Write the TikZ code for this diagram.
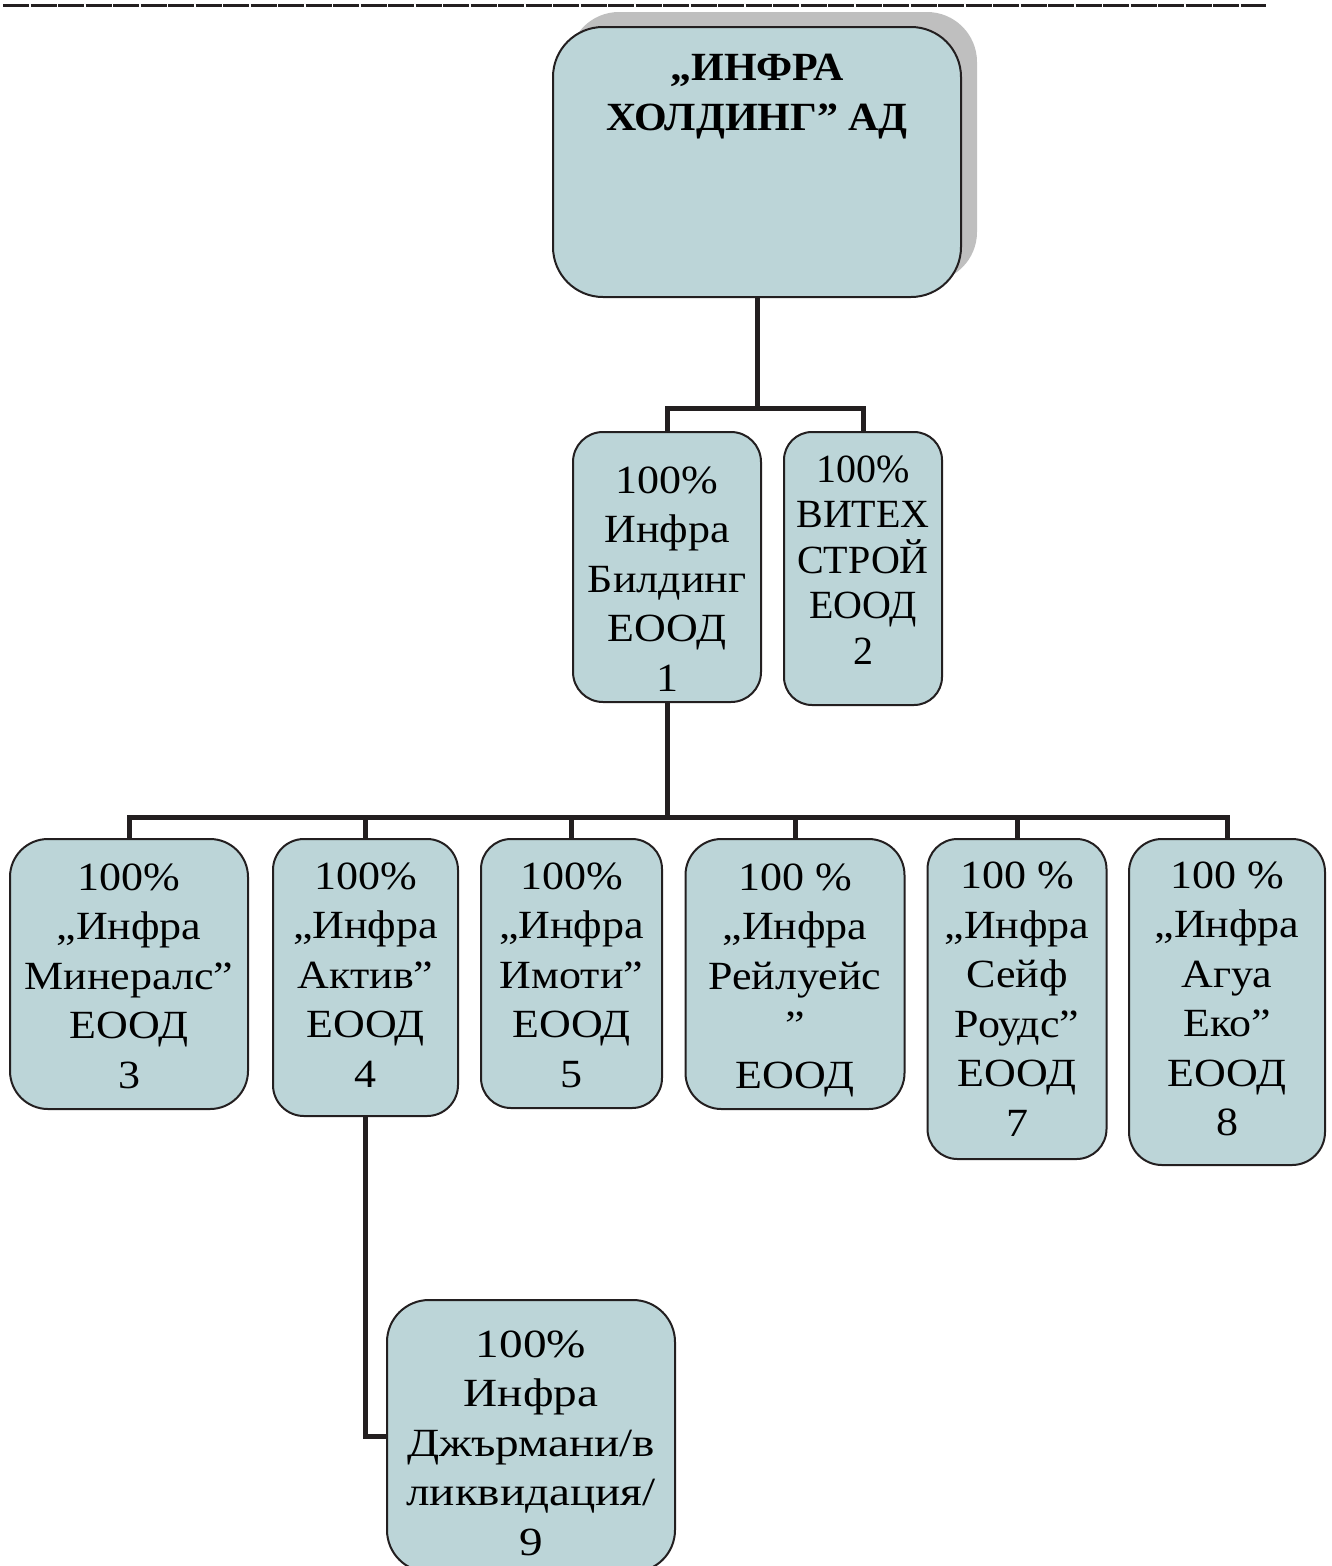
\documentclass[tikz,border=0pt]{standalone}
\usepackage{fontspec}
\setmainfont{Liberation Serif}[FakeStretch=1.1]
\newfontfamily\titlefont{Liberation Serif}[FakeStretch=1.05]
\newfontfamily\plainfont{Liberation Serif}
\newfontfamily\widefont{Liberation Serif}[FakeStretch=1.18]
\definecolor{boxfill}{RGB}{188,213,216}
\definecolor{ink}{RGB}{35,31,32}
\definecolor{shadowgray}{RGB}{191,191,191}
\tikzset{
  orgbox/.style={draw=ink, line width=2pt, fill=boxfill, inner sep=0pt},
  conn/.style={draw=ink, line width=5pt, line join=miter},
  txt/.style={align=center, inner sep=0pt, font=\fontsize{40}{49.5}\selectfont},
  titletxt/.style={align=center, inner sep=0pt, font=\titlefont\fontsize{40}{50}\selectfont\bfseries},
}
\begin{document}
\begin{tikzpicture}[x=1pt,y=-1pt]
\useasboundingbox (0,0) rectangle (1332,1566);
% top rule
\coordinate (ruleL) at (3,5);
\coordinate (ruleR) at (1266,5);
\draw[ink, line width=3pt, dash pattern=on 26pt off 1.5pt] (ruleL) -- (ruleR);
% top box with shadow
\fill[shadowgray, rounded corners=50pt] (569,12) rectangle (977,282);
\node[orgbox, rounded corners=50pt, minimum width=408pt, minimum height=270pt] (top) at (757,162) {};
\node[titletxt] (toptxt) at (757,97) {„ИНФРА\\ХОЛДИНГ” АД};
% level 1
\node[orgbox, rounded corners=30pt, minimum width=188pt, minimum height=270pt] (b1) at (667,567) {};
\node[txt] (b1t) at (667,579) {100\%\\Инфра\\Билдинг\\ЕООД\\1};
\node[orgbox, rounded corners=28pt, minimum width=158pt, minimum height=273pt] (b2) at (863,568.5) {};
\node[txt, font=\plainfont\fontsize{40}{45.5}\selectfont] (b2t) at (863,560) {100\%\\ВИТЕХ\\СТРОЙ\\ЕООД\\2};
% level 2
\node[orgbox, rounded corners=38pt, minimum width=238pt, minimum height=270pt] (b3) at (129,974) {};
\node[txt] (b3t) at (129,976) {100\%\\„Инфра\\Минералс”\\ЕООД\\3};
\node[orgbox, rounded corners=31pt, minimum width=185pt, minimum height=277pt] (b4) at (365.5,977.5) {};
\node[txt] (b4t) at (365.5,975) {100\%\\„Инфра\\Актив”\\ЕООД\\4};
\node[orgbox, rounded corners=30pt, minimum width=181pt, minimum height=269pt] (b5) at (571.5,973.5) {};
\node[txt] (b5t) at (571.5,975) {100\%\\„Инфра\\Имоти”\\ЕООД\\5};
\node[orgbox, rounded corners=36pt, minimum width=219pt, minimum height=270pt] (b6) at (795,974) {};
\node[txt] (b6t) at (795,980) {100 \%\\„Инфра\\Рейлуейс\\”\\ЕООД};
\node[orgbox, rounded corners=30pt, minimum width=179pt, minimum height=320pt] (b7) at (1017,999) {};
\node[txt] (b7t) at (1017,999) {100 \%\\„Инфра\\Сейф\\Роудс”\\ЕООД\\7};
\node[orgbox, rounded corners=33pt, minimum width=196pt, minimum height=326pt] (b8) at (1227,1002) {};
\node[txt] (b8t) at (1227,999) {100 \%\\„Инфра\\Агуа\\Еко”\\ЕООД\\8};
% level 3
\node[orgbox, rounded corners=42pt, minimum width=288pt, minimum height=272pt] (b9) at (531,1436) {};
\node[txt, font=\widefont\fontsize{40}{49.5}\selectfont] (b9t) at (531,1443) {100\%\\Инфра\\Джърмани/в\\ликвидация/\\9};
% connectors
\coordinate (j0) at (757,408);
\coordinate (j1) at (667,817);
\draw[conn] (top.south) -- (j0);
\draw[conn] (b1.north) -- (b1.north |- j0) -- (b2.north |- j0) -- (b2.north);
\draw[conn] (b1.south) -- (j1);
\draw[conn] (b3.north) -- (b3.north |- j1) -- (b8.north |- j1) -- (b8.north);
\draw[conn] (b4.north |- j1) -- (b4.north);
\draw[conn] (b5.north |- j1) -- (b5.north);
\draw[conn] (b6.north |- j1) -- (b6.north);
\draw[conn] (b7.north |- j1) -- (b7.north);
\draw[conn] (b4.south) |- (b9.west);
\end{tikzpicture}
\end{document}
